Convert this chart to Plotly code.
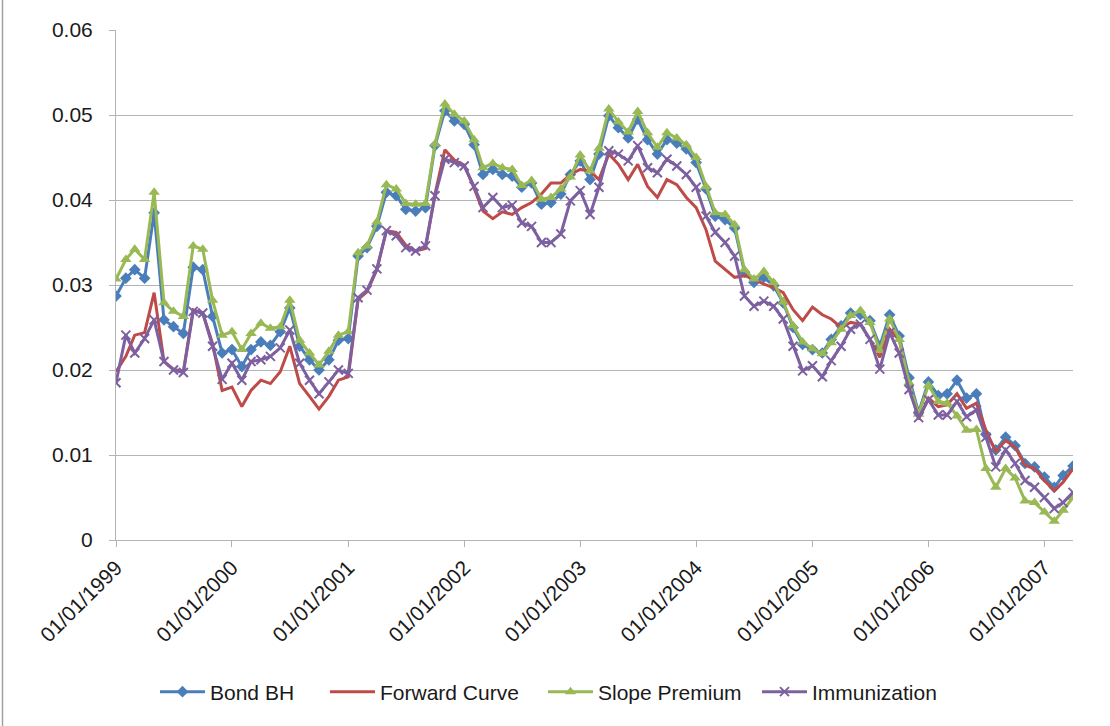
import plotly.graph_objects as go

# Monthly dates Jan 1999 .. Apr 2007
months = []
for yr in range(1999, 2008):
    for mo in range(1, 13):
        if yr == 2007 and mo > 4:
            break
        months.append(f"{yr}-{mo:02d}-01")

bond_bh = [
    0.0287, 0.0308, 0.0318, 0.0308, 0.0385, 0.0259, 0.0251, 0.0243, 0.0321, 0.0318, 0.0263, 0.0220,
    0.0224, 0.0204, 0.0224, 0.0233, 0.0229, 0.0245, 0.0273, 0.0228, 0.0212, 0.0200, 0.0212, 0.0235,
    0.0237, 0.0334, 0.0344, 0.0369, 0.0409, 0.0405, 0.0389, 0.0387, 0.0391, 0.0464, 0.0505, 0.0493,
    0.0489, 0.0465, 0.0430, 0.0436, 0.0430, 0.0428, 0.0415, 0.0420, 0.0395, 0.0397, 0.0407, 0.0430,
    0.0446, 0.0424, 0.0454, 0.0499, 0.0485, 0.0473, 0.0495, 0.0471, 0.0454, 0.0471, 0.0467, 0.0460,
    0.0444, 0.0413, 0.0381, 0.0377, 0.0367, 0.0315, 0.0303, 0.0309, 0.0299, 0.0279, 0.0250, 0.0230,
    0.0224, 0.0220, 0.0236, 0.0252, 0.0267, 0.0265, 0.0258, 0.0228, 0.0265, 0.0240, 0.0191, 0.0150,
    0.0186, 0.0170, 0.0172, 0.0188, 0.0167, 0.0172, 0.0124, 0.0106, 0.0121, 0.0111, 0.0090, 0.0086,
    0.0074, 0.0062, 0.0076, 0.0087,
]

forward_curve = [
    0.0198, 0.0216, 0.0241, 0.0244, 0.0291, 0.0210, 0.0201, 0.0198, 0.0271, 0.0267, 0.0231, 0.0176,
    0.0180, 0.0157, 0.0176, 0.0188, 0.0184, 0.0198, 0.0228, 0.0184, 0.0169, 0.0154, 0.0169, 0.0188,
    0.0192, 0.0283, 0.0292, 0.0318, 0.0364, 0.0362, 0.0347, 0.0340, 0.0343, 0.0407, 0.0459, 0.0447,
    0.0441, 0.0414, 0.0387, 0.0378, 0.0386, 0.0383, 0.0391, 0.0397, 0.0407, 0.0420, 0.0420, 0.0430,
    0.0436, 0.0434, 0.0424, 0.0454, 0.0442, 0.0424, 0.0442, 0.0416, 0.0403, 0.0424, 0.0418, 0.0403,
    0.0391, 0.0365, 0.0328, 0.0318, 0.0309, 0.0311, 0.0307, 0.0301, 0.0297, 0.0291, 0.0271, 0.0258,
    0.0274, 0.0265, 0.0260, 0.0250, 0.0256, 0.0254, 0.0236, 0.0215, 0.0248, 0.0236, 0.0182, 0.0142,
    0.0167, 0.0157, 0.0159, 0.0172, 0.0155, 0.0161, 0.0129, 0.0104, 0.0117, 0.0109, 0.0088, 0.0084,
    0.0070, 0.0058, 0.0068, 0.0084,
]

slope_premium = [
    0.0307, 0.0330, 0.0342, 0.0330, 0.0409, 0.0279, 0.0269, 0.0263, 0.0346, 0.0342, 0.0282, 0.0241,
    0.0245, 0.0224, 0.0243, 0.0255, 0.0249, 0.0251, 0.0282, 0.0235, 0.0220, 0.0206, 0.0222, 0.0241,
    0.0245, 0.0338, 0.0346, 0.0374, 0.0418, 0.0413, 0.0396, 0.0395, 0.0396, 0.0466, 0.0513, 0.0501,
    0.0493, 0.0471, 0.0438, 0.0443, 0.0438, 0.0436, 0.0417, 0.0423, 0.0401, 0.0403, 0.0413, 0.0427,
    0.0453, 0.0434, 0.0461, 0.0507, 0.0492, 0.0480, 0.0504, 0.0479, 0.0462, 0.0479, 0.0473, 0.0465,
    0.0450, 0.0416, 0.0385, 0.0383, 0.0371, 0.0318, 0.0307, 0.0316, 0.0303, 0.0280, 0.0252, 0.0233,
    0.0225, 0.0219, 0.0232, 0.0248, 0.0264, 0.0270, 0.0256, 0.0223, 0.0260, 0.0236, 0.0185, 0.0148,
    0.0182, 0.0163, 0.0161, 0.0146, 0.0129, 0.0130, 0.0084, 0.0062, 0.0084, 0.0073, 0.0046, 0.0044,
    0.0033, 0.0022, 0.0035, 0.0050,
]

immunization = [
    0.0185, 0.0241, 0.0220, 0.0237, 0.0259, 0.0210, 0.0200, 0.0197, 0.0269, 0.0267, 0.0228, 0.0189,
    0.0208, 0.0188, 0.0210, 0.0212, 0.0216, 0.0226, 0.0247, 0.0208, 0.0188, 0.0172, 0.0186, 0.0200,
    0.0196, 0.0285, 0.0294, 0.0319, 0.0364, 0.0358, 0.0344, 0.0340, 0.0346, 0.0405, 0.0448, 0.0444,
    0.0440, 0.0416, 0.0391, 0.0403, 0.0391, 0.0394, 0.0373, 0.0369, 0.0350, 0.0350, 0.0360, 0.0399,
    0.0411, 0.0383, 0.0415, 0.0458, 0.0454, 0.0446, 0.0464, 0.0438, 0.0432, 0.0448, 0.0440, 0.0430,
    0.0415, 0.0381, 0.0362, 0.0350, 0.0334, 0.0287, 0.0275, 0.0281, 0.0275, 0.0260, 0.0228, 0.0199,
    0.0205, 0.0192, 0.0211, 0.0228, 0.0248, 0.0254, 0.0236, 0.0201, 0.0244, 0.0220, 0.0177, 0.0144,
    0.0165, 0.0147, 0.0147, 0.0163, 0.0145, 0.0153, 0.0121, 0.0086, 0.0106, 0.0090, 0.0070, 0.0062,
    0.0050, 0.0037, 0.0044, 0.0056,
]

tick_dates = [f"{y}-01-01" for y in range(1999, 2008)]
tick_labels = [f"01/01/{y}" for y in range(1999, 2008)]
y_ticks = [0, 0.01, 0.02, 0.03, 0.04, 0.05, 0.06]
y_labels = ["0", "0.01", "0.02", "0.03", "0.04", "0.05", "0.06"]

FONT = "Liberation Sans"
FS = 21
TXT = "#1a1a1a"
GRID = "#B4B4B4"

fig = go.Figure()
fig.add_trace(go.Scatter(
    x=months, y=bond_bh, name="Bond BH", mode="lines+markers", legend="legend",
    line=dict(color="#4A7EBB", width=3),
    marker=dict(symbol="diamond", size=9, color="#4A7EBB"),
))
fig.add_trace(go.Scatter(
    x=months, y=forward_curve, name="Forward Curve", mode="lines", legend="legend2",
    line=dict(color="#BE4B48", width=3),
))
fig.add_trace(go.Scatter(
    x=months, y=slope_premium, name="Slope Premium", mode="lines+markers", legend="legend3",
    line=dict(color="#98B954", width=3),
    marker=dict(symbol="triangle-up", size=10, color="#98B954"),
))
fig.add_trace(go.Scatter(
    x=months, y=immunization, name="Immunization", mode="lines+markers", legend="legend4",
    line=dict(color="#7D60A0", width=3),
    marker=dict(symbol="x-thin", size=9, color="#7D60A0",
                line=dict(color="#7D60A0", width=2)),
))

PLOT_L, PLOT_R = 116, 1073
def px_to_paper(px):
    return (px - PLOT_L) / (PLOT_R - PLOT_L)

def leg(px):
    return dict(orientation="h", x=px_to_paper(px), xanchor="left",
                y=-0.298, yanchor="middle", itemwidth=45,
                font=dict(family=FONT, size=FS, color=TXT),
                bgcolor="rgba(0,0,0,0)", borderwidth=0)

fig.update_layout(
    width=1110, height=726,
    margin=dict(l=PLOT_L, r=1110 - PLOT_R, t=30, b=186),
    paper_bgcolor="white", plot_bgcolor="white",
    font=dict(family=FONT, size=FS, color=TXT),
    showlegend=True,
    legend=leg(155), legend2=leg(325), legend3=leg(543), legend4=leg(757),
    xaxis=dict(
        type="date", range=["1999-01-01", "2007-04-01"],
        tickmode="array", tickvals=tick_dates, ticktext=tick_labels,
        tickangle=-45, ticks="outside", ticklen=6, tickcolor=GRID,
        showline=True, linecolor=GRID, linewidth=1,
        showgrid=False, zeroline=False,
        tickfont=dict(family=FONT, size=FS, color=TXT),
    ),
    yaxis=dict(
        range=[0, 0.06], tickmode="array", tickvals=y_ticks, ticktext=y_labels,
        ticks="outside", ticklen=6, tickcolor=GRID, ticklabelstandoff=12,
        showline=True, linecolor=GRID, linewidth=1,
        showgrid=True, gridcolor=GRID, gridwidth=1, zeroline=False,
        tickfont=dict(family=FONT, size=FS, color=TXT),
    ),
    shapes=[dict(type="line", xref="paper", yref="paper",
                 x0=px_to_paper(2.5), x1=px_to_paper(2.5), y0=-0.37, y1=1.07,
                 line=dict(color="#A0A0A0", width=1.5))],
)

fig.write_html("out.html")
